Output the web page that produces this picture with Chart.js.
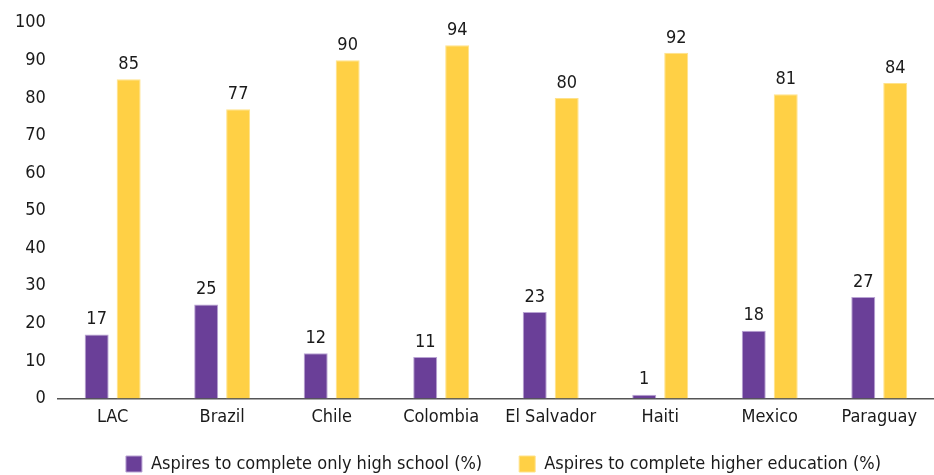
<!DOCTYPE html>
<html>
<head>
<meta charset="utf-8">
<script src="https://cdn.jsdelivr.net/npm/chart.js@4.4.1/dist/chart.umd.min.js"></script>
<style>
  html, body { margin: 0; padding: 0; background: #fff; }
  #wrap { width: 934px; height: 475px; }
</style>
</head>
<body>
<div id="wrap"><canvas id="chart"></canvas></div>
<script>
const categories = ['LAC', 'Brazil', 'Chile', 'Colombia', 'El Salvador', 'Haiti', 'Mexico', 'Paraguay'];
const highSchool = [17, 25, 12, 11, 23, 1, 18, 27];
const higherEd = [85, 77, 90, 94, 80, 92, 81, 84];
const seriesNames = ['Aspires to complete only high school (%)', 'Aspires to complete higher education (%)'];

const FONT = "'Liberation Sans Narrow', 'DejaVu Sans Condensed', 'Roboto Condensed', sans-serif";

// labels au-dessus des barres
const valueLabels = {
  id: 'valueLabels',
  afterDatasetsDraw(chart) {
    const ctx = chart.ctx;
    ctx.save();
    ctx.font = '18px ' + FONT;
    ctx.fillStyle = '#1a1a1a';
    ctx.textAlign = 'center';
    ctx.textBaseline = 'bottom';
    chart.data.datasets.forEach((ds, i) => {
      chart.getDatasetMeta(i).data.forEach((bar, j) => {
        ctx.fillText(ds.data[j], bar.x, bar.y - 6);
      });
    });
    ctx.restore();
  }
};

// légende : grand écart horizontal, peu de hauteur
const legendSpacing = {
  id: 'legendSpacing',
  beforeInit(chart) {
    const fit = chart.legend.fit;
    chart.legend.fit = function () {
      fit.call(this);
      this.height -= 28;
    };
  },
  afterLayout(chart) {
    const lg = chart.legend;
    lg.top = 418;
    lg.left += 35;
    lg.right += 35;
  }
};

new Chart(document.getElementById('chart'), {
  type: 'bar',
  data: {
    labels: categories,
    datasets: [
      {
        label: seriesNames[0],
        data: highSchool,
        backgroundColor: '#6a3f98',
        borderColor: '#b9a3d3',
        borderWidth: 1,
        categoryPercentage: 0.584,
        barPercentage: 0.75
      },
      {
        label: seriesNames[1],
        data: higherEd,
        backgroundColor: '#ffd045',
        borderColor: '#ffe28a',
        borderWidth: 1,
        categoryPercentage: 0.584,
        barPercentage: 0.75
      }
    ]
  },
  options: {
    responsive: true,
    maintainAspectRatio: false,
    animation: false,
    layout: { padding: { left: 3, right: 0, top: 9, bottom: 2 } },
    scales: {
      x: {
        grid: { display: false, drawTicks: false },
        border: { display: true, color: '#555', width: 1.5 },
        ticks: { color: '#1a1a1a', font: { family: FONT, size: 18 }, padding: 8 }
      },
      y: {
        min: 0,
        max: 100,
        grid: { display: false, drawTicks: false },
        border: { display: false },
        ticks: { stepSize: 10, color: '#1a1a1a', font: { family: FONT, size: 18 }, padding: 12 }
      }
    },
    plugins: {
      legend: {
        position: 'bottom',
        labels: {
          boxWidth: 16,
          boxHeight: 16,
          padding: 37,
          color: '#1a1a1a',
          font: { family: FONT, size: 18 }
        }
      },
      tooltip: { enabled: false }
    }
  },
  plugins: [valueLabels, legendSpacing]
});
</script>
</body>
</html>
